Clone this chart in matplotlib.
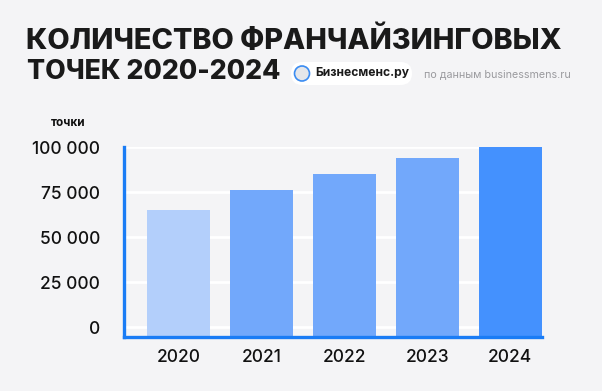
import matplotlib
matplotlib.use("Agg")
from matplotlib import pyplot as plt
from matplotlib.patches import FancyBboxPatch, Circle
from matplotlib.ticker import FuncFormatter
import numpy as np

# data
years = ["2020", "2021", "2022", "2023", "2024"]
points = [65000, 76000, 85000, 94000, 100000]
bar_colors = ["#b3cffb", "#72a8fb", "#72a8fb", "#72a8fb", "#4491fe"]
y_ticks = [0, 25000, 50000, 75000, 100000]

title_lines = ["КОЛИЧЕСТВО ФРАНЧАЙЗИНГОВЫХ", "ТОЧЕК 2020-2024"]
badge_text = "Бизнесменс.ру"
source_text = "по данным businessmens.ru"
unit_label = "точки"

BG = "#f4f4f6"
AXIS_BLUE = "#1a7cf5"
W, H = 602, 391

plt.rcParams["font.family"] = ["Inter", "DejaVu Sans"]

fig = plt.figure(figsize=(W / 100, H / 100), dpi=100, facecolor=BG)

# main bar chart, placed in pixel terms
left, right, top, bottom = 123.5, 541.5, 147, 337
ax = fig.add_axes([left / W, (H - bottom) / H, (right - left) / W, (bottom - top) / H])
ax.set_facecolor(BG)

y_min = -5500
x = np.arange(len(years))
vals = np.array(points)
ax.bar(x, vals - y_min, bottom=y_min, width=0.76, color=bar_colors, zorder=3)

ax.set_xlim(-0.665, len(years) - 1 + 0.38)
ax.set_ylim(y_min, 100000)
ax.set_yticks(y_ticks)
ax.yaxis.set_major_formatter(FuncFormatter(lambda v, p: f"{int(v):,}".replace(",", " ")))
ax.set_xticks(x)
ax.set_xticklabels(years)
ax.tick_params(axis="both", length=0, labelsize=12.5, colors="#111111")
for lab in ax.get_xticklabels() + ax.get_yticklabels():
    lab.set_fontweight(500)
ax.tick_params(axis="y", pad=17)
ax.tick_params(axis="x", pad=9)
ax.grid(axis="y", color="white", linewidth=2, zorder=0)
ax.set_axisbelow(True)
for s in ["top", "right"]:
    ax.spines[s].set_visible(False)
for s in ["left", "bottom"]:
    ax.spines[s].set_color(AXIS_BLUE)
    ax.spines[s].set_linewidth(2.4)
    ax.spines[s].set_zorder(4)

# overlay in pixel coordinates for the header
ov = fig.add_axes([0, 0, 1, 1], zorder=5)
ov.set_xlim(0, W)
ov.set_ylim(H, 0)
ov.axis("off")
ov.patch.set_alpha(0)

ov.text(26, 40.5, title_lines[0], fontsize=20.8, fontweight=800, color="#1a1a1a", va="center", ha="left")
ov.text(27, 72, title_lines[1], fontsize=19.2, fontweight=800, color="#1a1a1a", va="center", ha="left")

ov.add_patch(FancyBboxPatch((291, 62), 121, 23, boxstyle="round,pad=0,rounding_size=11.5",
                            facecolor="white", edgecolor="none"))
ov.add_patch(Circle((302, 73.5), 7.5, facecolor="#e4e6ea", edgecolor="#3b8cf2", linewidth=1.2))
ov.text(315, 73.5, badge_text, fontsize=8.7, fontweight=700, color="#1a1a1a", va="center", ha="left")
ov.text(424, 74, source_text, fontsize=7.7, color="#9a9a9e", va="center", ha="left")

ov.text(51, 123, unit_label, fontsize=8.5, fontweight=700, color="#111111", va="center", ha="left")

fig.savefig("out.png", dpi=100, facecolor=BG)
